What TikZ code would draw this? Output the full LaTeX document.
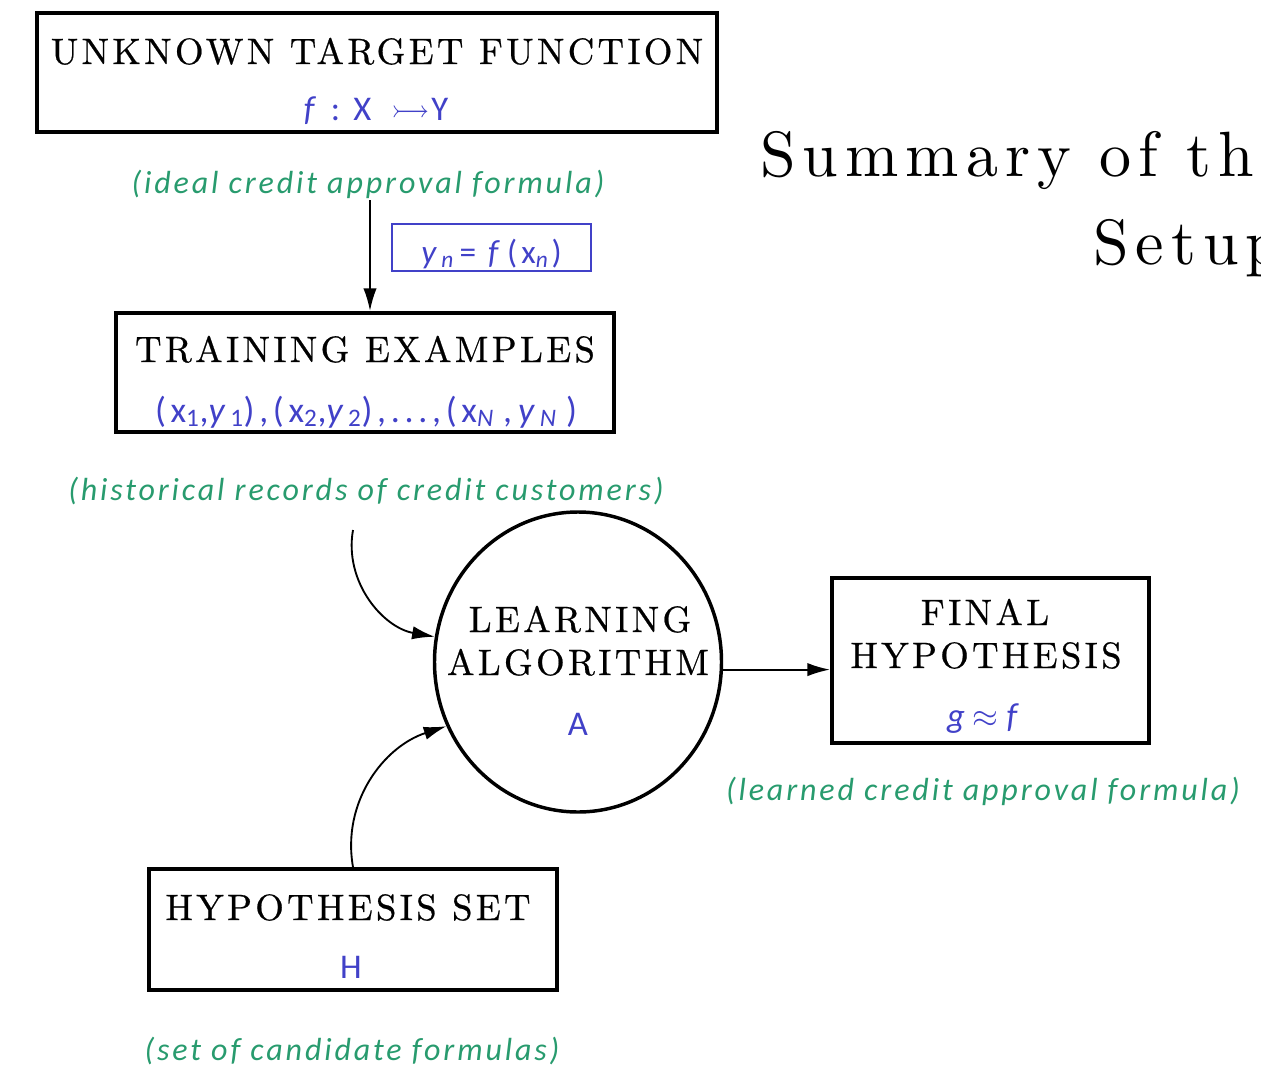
\documentclass[tikz,border=0pt]{standalone}
\usepackage{fontspec}
\usepackage{amssymb}
\usetikzlibrary{shapes.geometric,arrows.meta}
\newfontfamily\sansf{Carlito}
\newfontfamily\bluef{Carlito}[LetterSpace=13]
\newfontfamily\grnf{Carlito}[LetterSpace=9]
\newfontfamily\capf{lmroman10-regular}[Extension=.otf,LetterSpace=9,FakeBold=0.6]
\newfontfamily\titf{lmroman10-regular}[Extension=.otf,LetterSpace=11]
\definecolor{blueT}{RGB}{65,65,200}
\definecolor{greenT}{RGB}{40,155,110}
\begin{document}
\begin{tikzpicture}[x=0.75pt,y=-0.75pt,
  box/.style={draw,line width=3pt,rectangle,inner sep=0pt},
  capt/.style={anchor=base,inner sep=0pt,font=\capf\fontsize{27.5}{32}\selectfont},
  bluet/.style={anchor=base,inner sep=0pt,text=blueT,font=\sansf\fontsize{26}{30}\selectfont},
  bluesp/.style={anchor=base,inner sep=0pt,text=blueT,font=\bluef\fontsize{27}{31}\selectfont},
  grnt/.style={anchor=base,inner sep=0pt,text=greenT,font=\grnf\itshape\fontsize{24}{28}\selectfont},
  titt/.style={anchor=base west,inner sep=0pt,font=\titf\fontsize{48}{56}\selectfont},
  arr/.style={-{Latex[length=17pt,width=10pt]},line width=1.4pt}]
\useasboundingbox (0,0) rectangle (1261,1067);
\begin{scope}
\clip (0,0) rectangle (1261,1067);
\node[titt] (ti1) at (760,176) {Summary of th};
\node[titt] (ti2) at (1093,264) {Setup};
\end{scope}
% unknown target function
\node[box,minimum width=510pt,minimum height=89.25pt] (tf) at (377,72.5) {};
\node[capt] (tft) at (377,64) {UNKNOWN TARGET FUNCTION};
\node[bluet] (tfm) at (376,120) {\textit{f}\hspace{11pt}:\hspace{10pt}X\hspace{15pt}$\rightarrowtail$\hspace{1pt}Y};
\node[grnt] (g1) at (368,193) {(ideal credit approval formula)};
% yn box
\node[draw=blueT,line width=1.3pt,minimum width=149.25pt,minimum height=35.25pt,inner sep=0pt] (yb) at (491.5,247.5) {};
\node[bluesp,font=\bluef\fontsize{25}{29}\selectfont] (ybt) at (491.5,263) {\textit{y}\textsubscript{\textit{n}}\hspace{2pt}= \textit{f}\hspace{2pt}(x\textsubscript{\textit{n}})};
% training examples
\node[box,minimum width=373.5pt,minimum height=89.25pt] (tr) at (365,372.5) {};
\node[capt] (trt) at (365,362) {TRAINING EXAMPLES};
\node[bluesp] (trm) at (366,422) {(x\textsubscript{1},\textit{y}\textsubscript{1}),(x\textsubscript{2},\textit{y}\textsubscript{2}),...,(x\textsubscript{\textit{N}}\,,\,\textit{y}\textsubscript{\textit{N}}\,)};
\node[grnt] (g2) at (366,500) {(historical records of credit customers)};
% learning algorithm
\node[draw,ellipse,line width=2.6pt,minimum width=215.25pt,minimum height=225pt,inner sep=0pt] (la) at (578,662) {};
\node[capt] (lat1) at (580,632) {LEARNING};
\node[capt] (lat2) at (578,675) {ALGORITHM};
\node[bluet] (lam) at (578,735) {A};
% final hypothesis
\node[box,minimum width=237.75pt,minimum height=123.75pt] (fh) at (990.5,660.5) {};
\node[capt] (fht1) at (985,625) {FINAL};
\node[capt] (fht2) at (986,668) {HYPOTHESIS};
\node[bluet] (fhm) at (983,727) {\textit{g} $\approx$ \textit{f}};
\node[grnt] (g3) at (983,800) {(learned credit approval formula)};
% hypothesis set
\node[box,minimum width=306pt,minimum height=90.75pt] (hs) at (353,929.5) {};
\node[capt] (hst) at (348,920) {HYPOTHESIS SET};
\node[bluet] (hsm) at (351,978) {H};
\node[grnt] (g4) at (352,1060) {(set of candidate formulas)};
% connectors
\coordinate (a1) at (370,200);
\draw[arr] (a1) -- (a1 |- tr.north);
\coordinate (c1) at (353,530);
\draw[arr] (c1) to[out=-100,in=170] (la.170);
\draw[arr] (hs.north -| c1) to[out=100,in=198] (la.206);
\draw[arr] (la.-3) -- (la.-3 -| fh.west);
\end{tikzpicture}
\end{document}
